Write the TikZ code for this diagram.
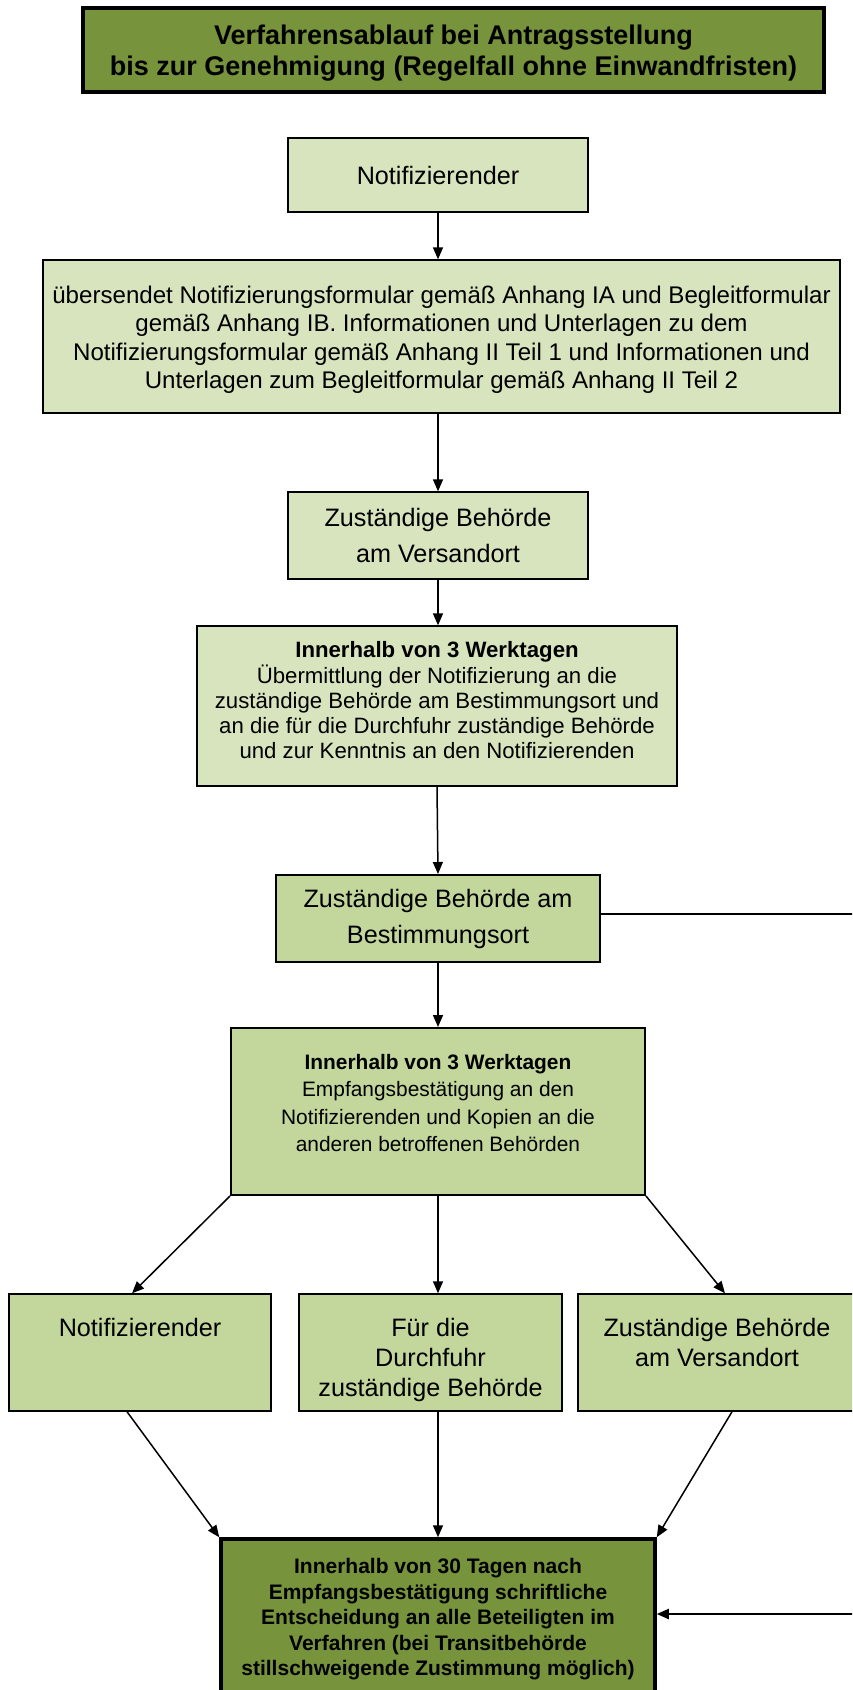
\documentclass[tikz,border=0pt]{standalone}
\usepackage{fontspec}
\setmainfont{Liberation Sans}
\usetikzlibrary{arrows.meta,calc}
\definecolor{darkg}{HTML}{77933C}
\definecolor{lightg}{HTML}{D7E4BD}
\definecolor{midg}{HTML}{C3D69B}
\newcommand\szTitle{\fontsize{27pt}{31pt}\selectfont\bfseries}
\newcommand\szOne{\fontsize{25.2pt}{30pt}\selectfont}
\newcommand\szTwo{\fontsize{25.2pt}{36pt}\selectfont}
\newcommand\szMid{\fontsize{24.1pt}{28.5pt}\selectfont}
\newcommand\szFwd{\fontsize{22.2pt}{25.3pt}\selectfont}
\newcommand\szAck{\fontsize{20.9pt}{27.3pt}\selectfont}
\newcommand\szFinal{\fontsize{21pt}{25.5pt}\selectfont\bfseries}
\begin{document}
\begin{tikzpicture}[x=1pt,y=-1pt,
  lightbox/.style={draw=black, fill=lightg, line width=1.3pt, inner sep=0pt, align=center},
  midbox/.style={draw=black, fill=midg, line width=2pt, inner sep=0pt, align=center},
  thinmid/.style={draw=black, fill=midg, line width=1.4pt, inner sep=0pt, align=center},
  darkbox/.style={draw=black, fill=darkg, line width=3.5pt, inner sep=0pt, align=center},
  arr/.style={line width=1.5pt, -{Triangle[length=12pt,width=10pt]}}]
\useasboundingbox (0,0) rectangle (852,1690);
\clip (0,0) rectangle (852,1690);

% title
\node[darkbox, font=\szTitle] (title) at (453.5,50)
  {\parbox[c][84pt][t]{741pt}{\centering\vspace*{16.5pt}%
   Verfahrensablauf bei Antragsstellung\\bis zur Genehmigung (Regelfall ohne Einwandfristen)}};

% main column
\node[lightbox, minimum width=300pt, minimum height=74pt, font=\szOne] (n1) at (438,175) {Notifizierender};
\node[lightbox, font=\szMid] (send) at (441.5,336.5)
  {\parbox[c][153pt][t]{797pt}{\centering\vspace*{25.6pt}%
   übersendet Notifizierungsformular gemäß Anhang IA und Begleitformular\\
   gemäß Anhang IB. Informationen und Unterlagen zu dem\\
   Notifizierungsformular gemäß Anhang II Teil 1 und Informationen und\\
   Unterlagen zum Begleitformular gemäß Anhang II Teil 2}};
\node[lightbox, minimum width=300pt, minimum height=87pt, font=\szTwo] (vers) at (438,535.5)
  {Zuständige Behörde\\am Versandort};
\node[lightbox, font=\szFwd] (fwd) at (437,706)
  {\parbox[c][160pt][t]{480pt}{\centering\vspace*{15.7pt}%
   \textbf{Innerhalb von 3 Werktagen}\\
   Übermittlung der Notifizierung an die\\
   zuständige Behörde am Bestimmungsort und\\
   an die für die Durchfuhr zuständige Behörde\\
   und zur Kenntnis an den Notifizierenden}};
\node[midbox, minimum width=324pt, minimum height=87pt, font=\szTwo] (best) at (438,918.5)
  {Zuständige Behörde am\\Bestimmungsort};
\node[midbox, font=\szAck] (ack) at (438,1111.5)
  {\parbox[c][167pt][t]{414pt}{\centering\vspace*{26.5pt}%
   \textbf{Innerhalb von 3 Werktagen}\\
   Empfangsbestätigung an den\\
   Notifizierenden und Kopien an die\\
   anderen betroffenen Behörden}};

% recipients
\node[thinmid, font=\szOne] (nl) at (140,1352.5)
  {\parbox[c][117pt][t]{262pt}{\centering\vspace*{24pt}Notifizierender}};
\node[thinmid, font=\szOne] (nm) at (430.5,1352.5)
  {\parbox[c][117pt][t]{263pt}{\centering\vspace*{24pt}Für die\\Durchfuhr\\zuständige Behörde}};
\node[thinmid, font=\szOne] (nr) at (717,1352.5)
  {\parbox[c][117pt][t]{278pt}{\centering\vspace*{24pt}Zuständige Behörde\\am Versandort}};

% decision
\node[darkbox, font=\szFinal] (dec) at (438,1629.5)
  {\parbox[c][181pt][t]{434pt}{\centering\vspace*{19.7pt}%
   Innerhalb von 30 Tagen nach\\
   Empfangsbestätigung schriftliche\\
   Entscheidung an alle Beteiligten im\\
   Verfahren (bei Transitbehörde\\
   stillschweigende Zustimmung möglich)}};

\coordinate (edge) at (870,1614);

% connectors
\draw[arr] (n1.south) -- (n1.south |- send.north);
\draw[arr] (vers.north |- send.south) -- (vers.north);
\draw[arr] (vers.south) -- (vers.south |- fwd.north);
\draw[arr] (fwd.south) -- (best.north);
\draw[arr] (best.south) -- (ack.north);
\draw[arr] (ack.south west) -- ([xshift=-8pt]nl.north);
\draw[arr] (ack.south) -- (ack.south |- nm.north);
\draw[arr] (ack.south east) -- ([xshift=8pt]nr.north);
\draw[arr] ([xshift=-13pt]nl.south) -- (dec.north west);
\draw[arr] (dec.north |- nm.south) -- (dec.north);
\draw[arr] ([xshift=15pt]nr.south) -- (dec.north east);
\draw[arr, line width=2pt] ([yshift=5pt]best.east) -- ([yshift=5pt]best.east -| edge) -- (edge) -- (edge -| dec.east);
\end{tikzpicture}
\end{document}
